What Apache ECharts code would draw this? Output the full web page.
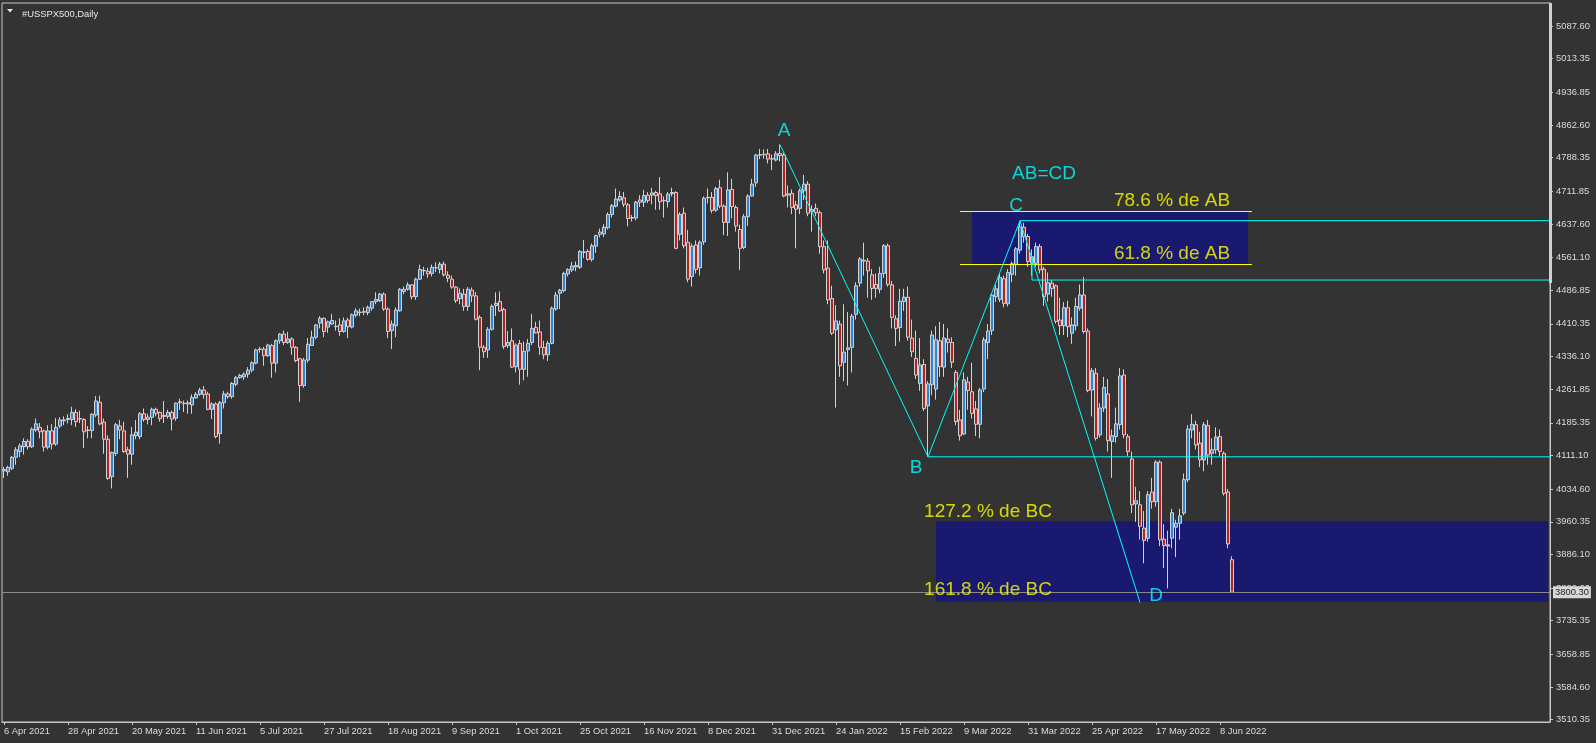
<!DOCTYPE html>
<html>
<head>
<meta charset="utf-8">
<script src="https://cdn.jsdelivr.net/npm/echarts@6/dist/echarts.min.js"></script>
<style>
html,body{margin:0;padding:0;background:#333333;}
#chart{width:1596px;height:743px;}
</style>
</head>
<body>
<div id="chart"></div>
<script>
// ---- data ----
const startDate = '2021-04-06';
const skippedDates = ['2021-12-24', '2022-04-15'];
const totalSlots = 387;           // bars visible across the chart width (incl. right shift)
const labelEvery = 16;

// daily candles: [open, close, low, high]
const ohlc = [
[4076,4079,4060,4085],[4074,4084,4065,4088],[4082,4107,4078,4110],[4107,4124,4090,4130],[4120,4133,4107,4138],
[4131,4143,4113,4150],[4143,4131,4125,4148],[4131,4171,4128,4175],[4169,4183,4165,4195],[4175,4165,4150,4185],
[4167,4130,4120,4170],[4130,4167,4125,4180],[4167,4137,4125,4182],[4137,4175,4133,4196],[4178,4192,4173,4198],
[4190,4192,4180,4200],[4193,4195,4184,4205],[4193,4209,4180,4222],[4209,4188,4176,4216],[4195,4194,4185,4213],
[4193,4165,4128,4196],[4168,4169,4150,4178],[4168,4205,4150,4207],[4203,4235,4198,4246],[4232,4183,4180,4247],
[4187,4148,4115,4195],[4148,4059,4056,4157],[4063,4118,4036,4120],[4116,4181,4110,4185],[4178,4169,4148,4192],
[4167,4120,4117,4188],[4124,4114,4060,4131],[4114,4158,4090,4176],[4156,4164,4148,4192],[4154,4206,4148,4210],
[4206,4193,4188,4218],[4193,4198,4182,4206],[4198,4216,4180,4220],[4216,4207,4200,4220],[4209,4195,4188,4211],
[4200,4202,4185,4235],[4200,4209,4195,4215],[4209,4194,4168,4213],[4196,4230,4190,4232],[4231,4233,4215,4240],
[4230,4229,4210,4236],[4231,4228,4206,4236],[4226,4243,4206,4250],[4242,4250,4240,4255],[4250,4260,4247,4265],
[4260,4250,4240,4269],[4251,4216,4214,4256],[4216,4228,4194,4232],[4228,4154,4150,4232],[4161,4231,4138,4235],
[4231,4251,4218,4258],[4251,4245,4240,4256],[4245,4275,4240,4278],[4273,4288,4268,4292],[4288,4293,4286,4297],
[4290,4296,4283,4300],[4296,4305,4288,4312],[4305,4322,4300,4325],[4321,4351,4318,4354],[4352,4353,4345,4358],
[4353,4338,4315,4358],[4338,4362,4335,4365],[4361,4321,4288,4365],[4321,4372,4300,4375],[4372,4387,4365,4390],
[4387,4368,4362,4395],[4368,4376,4365,4392],[4376,4357,4340,4380],[4357,4327,4323,4360],[4331,4270,4233,4333],
[4270,4328,4265,4333],[4328,4364,4322,4378],[4361,4380,4360,4395],[4380,4408,4375,4410],[4412,4423,4400,4428],
[4423,4393,4380,4425],[4403,4415,4390,4418],[4410,4418,4408,4433],[4405,4404,4395,4418],[4408,4393,4383,4423],
[4393,4417,4390,4425],[4419,4404,4378,4424],[4403,4431,4400,4434],[4430,4440,4425,4446],[4436,4437,4428,4445],
[4437,4438,4430,4448],[4436,4448,4430,4452],[4446,4461,4440,4462],[4461,4466,4455,4482],[4463,4478,4460,4481],
[4478,4444,4440,4482],[4444,4393,4378,4448],[4395,4410,4353,4418],[4406,4442,4380,4448],[4440,4489,4438,4492],
[4484,4489,4478,4495],[4489,4499,4486,4505],[4499,4472,4466,4500],[4472,4512,4465,4515],[4512,4534,4510,4545],
[4531,4532,4520,4540],[4530,4524,4515,4538],[4525,4539,4518,4545],[4538,4538,4528,4550],[4534,4546,4525,4551],
[4546,4522,4518,4552],[4521,4514,4505,4530],[4512,4494,4490,4520],[4494,4463,4458,4496],[4468,4480,4455,4491],
[4478,4450,4440,4490],[4450,4489,4440,4494],[4487,4474,4460,4493],[4474,4421,4418,4483],[4425,4357,4305,4430],
[4357,4347,4333,4362],[4351,4398,4333,4403],[4398,4450,4395,4455],[4452,4457,4428,4482],[4461,4440,4438,4484],
[4443,4359,4353,4447],[4361,4368,4355,4394],[4372,4312,4310,4400],[4313,4362,4300,4366],[4366,4307,4272,4374],
[4307,4348,4282,4370],[4349,4366,4290,4376],[4368,4400,4362,4433],[4402,4390,4388,4415],[4392,4357,4340,4418],
[4357,4340,4330,4372],[4340,4366,4326,4372],[4366,4446,4364,4450],[4444,4476,4440,4483],[4480,4487,4444,4490],
[4486,4525,4482,4529],[4524,4534,4518,4537],[4533,4542,4528,4551],[4540,4543,4530,4552],[4539,4575,4535,4578],
[4573,4574,4560,4601],[4575,4557,4554,4580],[4557,4588,4552,4593],[4587,4611,4572,4613],[4619,4614,4607,4627],
[4615,4630,4608,4637],[4629,4659,4625,4664],[4659,4679,4652,4683],[4678,4694,4675,4718],[4692,4700,4688,4712],
[4697,4682,4676,4710],[4681,4650,4632,4685],[4651,4652,4643,4658],[4651,4687,4646,4690],[4692,4687,4676,4703],
[4687,4702,4676,4715],[4703,4691,4685,4710],[4703,4708,4682,4720],[4709,4702,4670,4713],[4706,4688,4670,4744],
[4690,4691,4652,4700],[4688,4705,4675,4710],[4706,4709,4700,4720],[4709,4582,4580,4712],[4614,4659,4600,4664],
[4662,4588,4582,4675],[4596,4512,4505,4624],[4518,4587,4495,4593],[4590,4534,4525,4600],[4538,4596,4520,4600],
[4597,4696,4590,4700],[4697,4698,4684,4718],[4698,4668,4662,4710],[4669,4718,4665,4722],[4720,4678,4673,4738],
[4678,4641,4612,4682],[4641,4715,4610,4755],[4716,4677,4650,4740],[4675,4633,4620,4680],[4625,4582,4533,4636],
[4584,4654,4580,4660],[4654,4701,4633,4705],[4701,4728,4700,4740],[4731,4794,4722,4797],[4794,4795,4785,4808],
[4795,4796,4786,4807],[4797,4785,4775,4808],[4786,4785,4760,4795],[4783,4797,4780,4803],[4798,4793,4780,4818],
[4794,4701,4698,4800],[4703,4706,4675,4725],[4707,4675,4660,4716],[4681,4671,4582,4690],[4673,4713,4660,4718],
[4713,4728,4692,4749],[4728,4662,4655,4735],[4666,4670,4620,4680],[4673,4663,4655,4684],[4663,4586,4570,4668],
[4586,4533,4525,4600],[4537,4465,4455,4600],[4468,4389,4385,4497],[4397,4417,4220,4453],[4410,4315,4290,4418],
[4323,4346,4280,4455],[4352,4356,4270,4437],[4357,4428,4300,4433],[4432,4497,4420,4505],[4503,4558,4495,4562],
[4555,4553,4520,4595],[4553,4531,4470,4560],[4522,4491,4465,4535],[4500,4491,4470,4525],[4489,4525,4480,4540],
[4525,4588,4515,4592],[4588,4500,4495,4593],[4499,4425,4400,4508],[4422,4400,4360,4430],[4402,4462,4370,4490],
[4461,4471,4440,4490],[4471,4380,4372,4495],[4378,4347,4335,4420],[4332,4294,4285,4395],[4275,4317,4258,4378],
[4318,4218,4212,4330],[4224,4274,4108,4280],[4272,4385,4248,4395],[4262,4374,4238,4405],[4372,4313,4290,4415],
[4312,4378,4290,4410],[4376,4368,4345,4400],[4368,4323,4310,4380],[4300,4188,4180,4305],[4192,4156,4145,4215],
[4160,4283,4158,4300],[4278,4259,4215,4290],[4256,4207,4195,4322],[4217,4182,4155,4235],[4182,4260,4150,4265],
[4262,4374,4255,4380],[4368,4394,4330,4410],[4395,4476,4385,4480],[4472,4490,4460,4500],[4466,4516,4460,4525],
[4513,4457,4448,4520],[4456,4527,4450,4535],[4523,4547,4505,4552],[4545,4581,4520,4585],[4578,4631,4570,4644],
[4630,4609,4595,4640],[4609,4552,4540,4615],[4548,4563,4520,4580],[4548,4586,4540,4595],[4586,4533,4525,4592],
[4535,4472,4451,4540],[4478,4504,4461,4527],[4503,4491,4472,4510],[4497,4416,4411,4500],[4419,4406,4385,4470],
[4406,4447,4385,4460],[4447,4404,4380,4463],[4389,4408,4365,4425],[4406,4450,4395,4470],[4446,4476,4440,4500],
[4476,4393,4388,4517],[4394,4259,4255,4400],[4260,4304,4200,4310],[4298,4150,4145,4310],[4158,4219,4152,4230],
[4219,4266,4210,4290],[4251,4145,4120,4285],[4143,4156,4060,4170],[4154,4183,4140,4220],[4181,4292,4170,4310],
[4294,4158,4150,4307],[4154,4120,4110,4160],[4103,3999,3980,4120],[4001,4008,3960,4040],[3999,3950,3920,4030],
[3946,3918,3866,3985],[3923,4022,3915,4030],[4028,4006,3990,4060],[4006,4096,3995,4100],[4096,3919,3905,4100],
[3921,3906,3855,3955],[3905,3908,3809,3940],[3923,3981,3900,3990],[3948,3957,3880,3965],[3957,3974,3920,3990],
[3980,4056,3975,4070],[4056,4171,4050,4180],[4169,4182,4150,4205],[4181,4135,4125,4190],[4139,4101,4085,4165],
[4101,4181,4075,4187],[4179,4112,4090,4192],[4116,4124,4090,4150],[4124,4153,4115,4175],[4154,4120,4110,4170],
[4116,4025,4020,4120],[4028,3910,3900,4035],[3874,3800.3,3800,3882]
];

const currentPrice = 3800.30;

// right price scale tick labels (bottom -> top)
const yTickLabels = ['3510.35','3584.60','3658.85','3735.35','3809.60','3886.10','3960.35','4034.60','4111.10',
  '4185.35','4261.85','4336.10','4410.35','4486.85','4561.10','4637.60','4711.85','4788.35','4862.60','4936.85',
  '5013.35','5087.60'];
const yMin = 3505.1, yMax = 5139.9;

// ABCD pattern pivots [barIndex, price]
const zigzag = [[194, 4818], [231, 4108], [254, 4645], [283.5, 3777]];
const pivotLabels = [['A', 194.9, 4849], ['B', 227.9, 4084], ['C', 252.6, 4679], ['D', 287.8, 3791], ['AB=CD', 259.8, 4752]];

// fibonacci zones [fromBar, toBar, upper, lower] and yellow level lines [fromBar, toBar, price]
const fibBoxes = [[241.75, 310.75, 4667, 4546], [232.75, 386.5, 3961.4, 3778.6]];
const fibLines = [[238.75, 311.75, 4667], [238.75, 311.75, 4546], [230, 386.5, 3961.4], [230, 386.5, 3778.6]];
const fibLabels = [['78.6 % de AB', 291.6, 4691], ['61.8 % de AB', 291.6, 4569], ['127.2 % de BC', 245.9, 3984], ['161.8 % de BC', 245.9, 3805]];

// cyan horizontal / helper lines: polyline points [barIndex, price]
const cyanLines = [
  [[231, 4108], [386.5, 4108]],
  [[254, 4645], [386.5, 4645]],
  [[257, 4563], [257, 4510], [386.5, 4510]]
];

// ---- build categories ----
const months = ['Jan','Feb','Mar','Apr','May','Jun','Jul','Aug','Sep','Oct','Nov','Dec'];
const categories = [];
(function(){
  let d = new Date(startDate + 'T00:00:00Z');
  while (categories.length < ohlc.length) {
    const iso = d.toISOString().slice(0,10);
    const wd = d.getUTCDay();
    if (wd !== 0 && wd !== 6 && skippedDates.indexOf(iso) < 0) {
      categories.push(d.getUTCDate() + ' ' + months[d.getUTCMonth()] + ' ' + d.getUTCFullYear());
    }
    d = new Date(d.getTime() + 86400000);
  }
  while (categories.length < totalSlots) categories.push('');
})();

const yTickValues = yTickLabels.map(Number);
const axisColor = '#c8c8c8';
const textColor = '#dcdcdc';
const font = 'Liberation Sans, Arial, sans-serif';

const chart = echarts.init(document.getElementById('chart'), null, {renderer: 'canvas'});

const series = [];

// fib boxes (background)
series.push({
  type: 'line', name: 'boxes', data: [], z: 1, silent: true,
  markArea: {
    silent: true,
    itemStyle: {color: '#191970', opacity: 1},
    data: fibBoxes.map(b => [{coord: [b[0], b[2]]}, {coord: [b[1], b[3]]}])
  }
});

// current price line
series.push({
  type: 'line', name: 'price', data: [], z: 2, silent: true,
  markLine: {
    silent: true, symbol: ['none', 'none'],
    lineStyle: {color: '#8a8a8a', width: 1, type: 'solid'},
    label: {
      show: true, position: 'end', distance: 3,
      formatter: () => currentPrice.toFixed(2),
      backgroundColor: '#d8d8d8', color: '#222', padding: [2, 2, 1, 2],
      fontSize: 9.4, fontFamily: font
    },
    data: [{yAxis: currentPrice}]
  }
});

// candles
series.push({
  type: 'candlestick', name: '#USSPX500', data: ohlc, z: 3,
  barWidth: 3,
  itemStyle: {
    color: '#2e86d8', color0: '#b22424',
    borderColor: '#d2d2d2', borderColor0: '#d2d2d2', borderColorDoji: '#d2d2d2',
    borderWidth: 1
  }
});

// yellow fib level lines
series.push({
  type: 'line', name: 'fib', data: [], z: 4, silent: true,
  markLine: {
    silent: true, symbol: ['none', 'none'], label: {show: false},
    lineStyle: {color: '#ffff00', width: 1, type: 'solid'},
    data: fibLines.map(l => [{coord: [l[0], l[2]]}, {coord: [l[1], l[2]]}])
  }
});

// cyan helper lines
cyanLines.forEach((pts, k) => {
  series.push({
    type: 'line', name: 'cyan' + k, data: pts, z: 5, silent: true,
    symbol: 'none', lineStyle: {color: '#00ffff', width: 1}
  });
});

// zigzag
series.push({
  type: 'line', name: 'ABCD', data: zigzag, z: 5, silent: true,
  symbol: 'none', lineStyle: {color: '#00ffff', width: 1}
});

// text labels
series.push({
  type: 'scatter', name: 'pivotText', z: 6, silent: true, symbolSize: 0,
  data: pivotLabels.map(p => ({value: [p[1], p[2]], name: p[0]})),
  label: {show: true, position: 'inside', formatter: p => p.name, color: '#00ffff', fontSize: 19, fontFamily: font}
});
series.push({
  type: 'scatter', name: 'fibText', z: 6, silent: true, symbolSize: 0,
  data: fibLabels.map(p => ({value: [p[1], p[2]], name: p[0]})),
  label: {show: true, position: 'inside', formatter: p => p.name, color: '#ffff00', fontSize: 19, fontFamily: font}
});

chart.setOption({
  backgroundColor: '#333333',
  animation: false,
  title: {
    text: '#USSPX500,Daily', left: 17, top: 5,
    textStyle: {color: '#e8e8e8', fontSize: 9.4, fontWeight: 'normal', fontFamily: font}
  },
  graphic: [
    {type: 'polygon', shape: {points: [[7, 9], [13, 9], [10, 12.5]]}, style: {fill: '#e8e8e8'}},
    {type: 'rect', shape: {x: 1549, y: 3, width: 3, height: 280}, style: {fill: '#d0d0d0'}, z: 10}
  ],
  grid: {left: 2, right: 46, top: 3, bottom: 21, show: true, borderColor: axisColor, borderWidth: 1},
  xAxis: {
    type: 'category', data: categories, boundaryGap: true,
    axisLine: {show: true, lineStyle: {color: axisColor}},
    axisTick: {show: true, alignWithLabel: true, length: 3, lineStyle: {color: axisColor},
      interval: (i, v) => i % labelEvery === 0 && v !== ''},
    axisLabel: {interval: labelEvery - 1, align: 'left', color: textColor, fontSize: 9.4, fontFamily: font, margin: 5},
    splitLine: {show: false}
  },
  yAxis: {
    type: 'value', position: 'right', min: yMin, max: yMax, scale: true,
    axisLine: {show: true, lineStyle: {color: axisColor}},
    axisTick: {show: true, length: 3, customValues: yTickValues, lineStyle: {color: axisColor}},
    axisLabel: {customValues: yTickValues, formatter: v => v.toFixed(2), color: textColor, fontSize: 9.4, fontFamily: font, margin: 6},
    splitLine: {show: false}
  },
  series: series
});
</script>
</body>
</html>
